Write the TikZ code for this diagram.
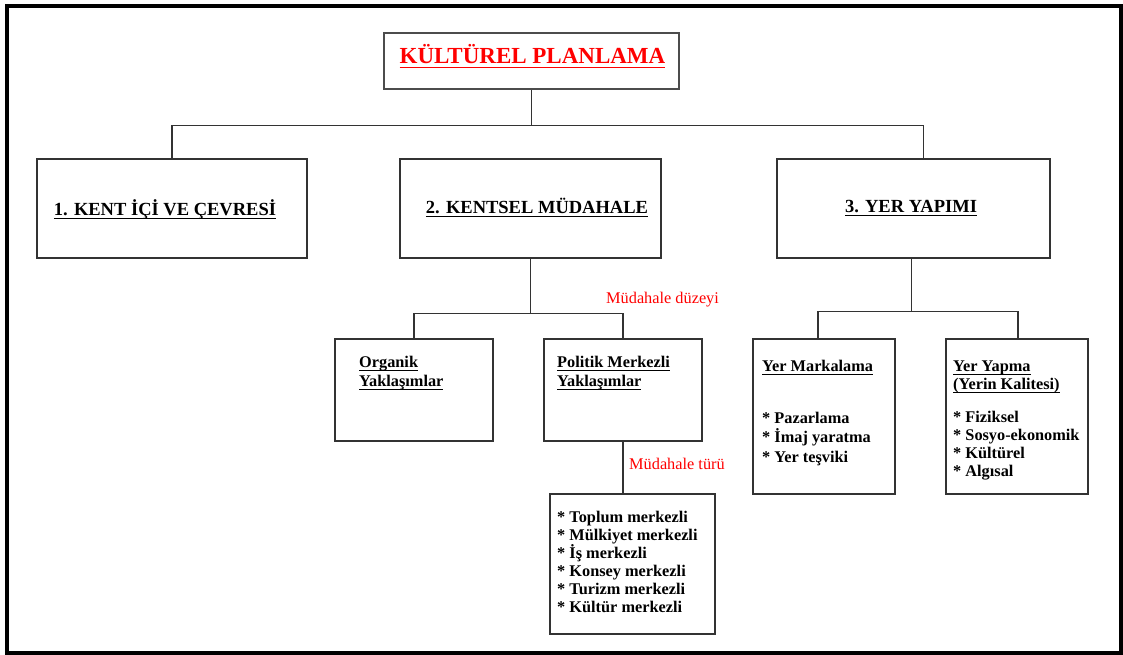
\documentclass[tikz,border=0pt]{standalone}
\usepackage{fontspec}
\setmainfont{Liberation Serif}
\usetikzlibrary{positioning,calc}

% underline with fixed depth
\newsavebox\altkutu
\newcommand{\alti}[1]{\sbox\altkutu{#1}\leavevmode\rlap{\usebox\altkutu}\rule[-4.4pt]{\wd\altkutu}{1.4pt}}

\tikzset{
    kutu/.style = {draw=black!80, line width=1.6pt, inner sep=0pt, anchor=north west},
    hat/.style = {draw=black!80, line width=1.5pt},
    baslik/.style = {font=\fontsize{18.5}{20}\selectfont\bfseries, inner sep=0pt, anchor=base},
    yazi/.style = {font=\fontsize{16.3}{19}\selectfont\bfseries, inner sep=0pt, anchor=base west, align=left},
    liste/.style = {yazi, font=\fontsize{16.3}{18}\selectfont\bfseries},
    kirmizi/.style = {text=red, font=\fontsize{16.3}{18}\selectfont, inner sep=0pt, anchor=base west},
}

\begin{document}
\begin{tikzpicture}[x=1pt, y=-1pt]
        \useasboundingbox (0,0) rectangle (1123,655);
        % frame
        \path[draw, line width=4pt](7,6)rectangle(1121,653);
        % boxes
        \node[kutu, draw=black!70, line width=2.4pt, minimum width=295pt, minimum height=56pt](plan)at(383,32){};
        \node[kutu, minimum width=270pt, minimum height=99pt](k1)at(36,158){};
        \node[kutu, minimum width=261pt, minimum height=99pt](k2)at(399,158){};
        \node[kutu, minimum width=273pt, minimum height=99pt](k3)at(776,158){};
        \node[kutu, minimum width=158pt, minimum height=102pt](org)at(334,338){};
        \node[kutu, minimum width=158pt, minimum height=102pt](pol)at(543,338){};
        \node[kutu, minimum width=165pt, minimum height=140pt](tur)at(549,493){};
        \node[kutu, minimum width=142pt, minimum height=155pt](mark)at(752,338){};
        \node[kutu, minimum width=142pt, minimum height=155pt](yap)at(945,338){};
        % texts (multi-line nodes sit on their last baseline)
        \node[baslik, text=red, font=\fontsize{23}{25}\selectfont\bfseries](t0)at(532.5,64){\alti{KÜLTÜREL PLANLAMA}};
        \node[baslik](t1)at(165,215){\alti{1. KENT İÇİ VE ÇEVRESİ}};
        \node[baslik](t2)at(537,213){\alti{2. KENTSEL MÜDAHALE}};
        \node[baslik](t3)at(911,212){\alti{3. YER YAPIMI}};
        \node[yazi](torg)at(359,386){\alti{Organik}\\\alti{Yaklaşımlar}};
        \node[yazi](tpol)at(557,386){\alti{Politik Merkezli}\\\alti{Yaklaşımlar}};
        \node[liste](ttur)at(557,612){* Toplum merkezli\\* Mülkiyet merkezli\\* İş merkezli\\* Konsey merkezli\\* Turizm merkezli\\* Kültür merkezli};
        \node[yazi](tmark)at(762,371){\alti{Yer Markalama}};
        \node[yazi, font=\fontsize{16.3}{19.5}\selectfont\bfseries](lmark)at(762,462){* Pazarlama\\* İmaj yaratma\\* Yer teşviki};
        \node[yazi, font=\fontsize{16.3}{18}\selectfont\bfseries](tyap)at(953,389){\alti{Yer Yapma}\\\alti{(Yerin Kalitesi)}};
        \node[liste, font=\fontsize{16.3}{17.8}\selectfont\bfseries](lyap)at(953,476){* Fiziksel\\* Sosyo-ekonomik\\* Kültürel\\* Algısal};
        \node[kirmizi](duzey)at(606,303){Müdahale düzeyi};
        \node[kirmizi](turu)at(629,469){Müdahale türü};
        % connectors
        \path[hat](plan.south)--++(0,35)coordinate(b1);
        \path[hat](k1.north)|-(b1)-|([xshift=10pt]k3.north);
        \path[hat](k2.south)--++(0,55)coordinate(b2);
        \path[hat](org.north)|-(b2)-|(pol.north);
        \path[hat](pol.south)--(pol.south|-tur.north);
        \path[hat]([xshift=-2pt]k3.south)--++(0,53)coordinate(b3);
        \path[hat]([xshift=-6pt]mark.north)|-(b3)-|([xshift=1pt]yap.north);
\end{tikzpicture}
\end{document}
